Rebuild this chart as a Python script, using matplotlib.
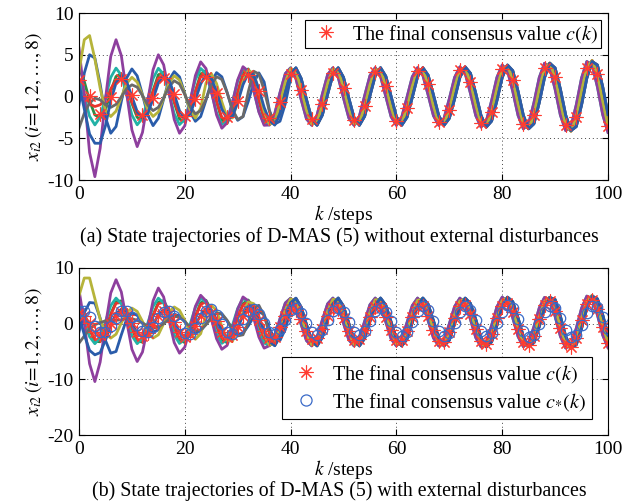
import matplotlib
matplotlib.use('Agg')
import matplotlib.pyplot as plt
from matplotlib.lines import Line2D

plt.rcParams['font.family'] = ['Liberation Serif', 'DejaVu Serif']
plt.rcParams['mathtext.fontset'] = 'stix'
plt.rcParams['axes.unicode_minus'] = False

steps = list(range(101))

# ======================= panel (a) =======================
c_top = [2.00, 1.44, 0.03, -1.42, -2.06, -1.52, -0.08, 1.42, 2.13, 1.61,
         0.14, -1.43, -2.19, -1.70, -0.21, 1.42, 2.26, 1.79, 0.28, -1.43,
         -2.33, -1.90, -0.35, 1.42, 2.39, 1.99, 0.43, -1.41, -2.46, -2.09,
         -0.51, 1.40, 2.52, 2.21, 0.60, -1.39, -2.59, -2.31, -0.68, 1.37,
         2.65, 2.42, 0.78, -1.35, -2.72, -2.54, -0.88, 1.32, 2.78, 2.66,
         0.98, -1.29, -2.85, -2.77, -1.09, 1.26, 2.91, 2.90, 1.21, -1.22,
         -2.97, -3.02, -1.32, 1.17, 3.03, 3.16, 1.45, -1.13, -3.09, -3.29,
         -1.58, 1.07, 3.15, 3.42, 1.72, -1.02, -3.20, -3.57, -1.87, 0.96,
         3.26, 3.71, 2.01, -0.88, -3.31, -3.85, -2.17, 0.81, 3.36, 4.00,
         2.33, -0.72, -3.40, -4.15, -2.50, 0.63, 3.45, 4.30, 2.67, -0.54,
         -3.48]

# synchronised parts, k = 36 ... 100
lead_tail = [-3.41, -2.07, 0.47, 2.74, 3.43, 2.15, -0.37, -2.68, -3.44, -2.22,
             0.28, 2.62, 3.44, 2.29, -0.18, -2.55, -3.45, -2.36, 0.10, 2.49,
             3.45, 2.42, 0.00, -2.42, -3.45, -2.49, -0.09, 2.36, 3.45, 2.55,
             0.18, -2.29, -3.45, -2.62, -0.28, 2.28, 3.55, 2.78, 0.38, -2.28,
             -3.66, -2.94, -0.49, 2.28, 3.77, 3.09, 0.61, -2.27, -3.87, -3.26,
             -0.74, 2.26, 3.98, 3.42, 0.87, -2.23, -4.08, -3.60, -1.01, 2.21,
             4.19, 3.77, 1.15, -2.17, -4.30]
mid_tail = [-3.35, -2.96, -0.87, 1.73, 3.33, 3.01, 0.96, -1.65, -3.30, -3.05,
            -1.05, 1.57, 3.27, 3.09, 1.14, -1.48, -3.24, -3.14, -1.22, 1.40,
            3.21, 3.17, 1.31, -1.31, -3.17, -3.21, -1.39, 1.22, 3.14, 3.24,
            1.48, -1.14, -3.10, -3.27, -1.58, 1.07, 3.15, 3.42, 1.72, -1.02,
            -3.20, -3.57, -1.87, 0.96, 3.26, 3.71, 2.01, -0.88, -3.31, -3.85,
            -2.17, 0.81, 3.36, 4.00, 2.33, -0.72, -3.40, -4.15, -2.50, 0.63,
            3.45, 4.30, 2.67, -0.54, -3.48]
lag_tail = [-2.79, -3.41, -2.07, 0.47, 2.74, 3.43, 2.15, -0.37, -2.68, -3.44,
            -2.22, 0.28, 2.62, 3.44, 2.29, -0.18, -2.55, -3.45, -2.36, 0.10,
            2.49, 3.45, 2.42, 0.00, -2.42, -3.45, -2.49, -0.09, 2.36, 3.45,
            2.55, 0.18, -2.29, -3.45, -2.62, -0.28, 2.28, 3.55, 2.78, 0.38,
            -2.28, -3.66, -2.94, -0.49, 2.28, 3.77, 3.09, 0.61, -2.27, -3.87,
            -3.26, -0.74, 2.26, 3.98, 3.42, 0.87, -2.23, -4.08, -3.60, -1.01,
            2.21, 4.19, 3.77, 1.15, -2.17]

# transients, k = 0 ... 35 unless noted
blue1_head = [-1.0, 2.8, 5.0, 4.6, 1.5, -2.5, -4.4, -3.6, -0.6, 2.22,
              3.30, 2.47, 0.22, -2.22, -3.49, -2.60, -0.31, 1.96, 2.98, 2.35,
              0.36, -1.84, -2.97, -2.40, -0.44, 1.71, 2.86, 2.36, 0.50, -1.65,
              -2.85, -2.41, -0.58, 1.58, 2.83, 1.74, -1.68, -3.30, -2.96, -0.87,
              2.2]                      # k = 0 ... 40
green_head = [3.5, 1.8, -0.5, -2.2, -2.6, -1.6, 0.6, 2.4, 2.7, 1.3,
              -0.8, -2.5, -2.8, -1.5, 0.7, 2.6, 2.9, 1.5, -0.7, -2.7,
              -3.0, -1.7, 0.6, 2.7, 3.1, 1.8, -0.6, -2.8, -3.2, -1.9,
              0.5, 2.8, 3.3, 2.0, -0.5, -2.8]
red_head = [1.6, 0.3, -0.9, -1.2, -1.0, -0.3, 0.9, 2.0, 2.2, 1.1,
            -0.7, -2.1, -2.3, -1.2, 0.6, 2.2, 2.5, 1.3, -0.6, -2.3,
            -2.6, -1.4, 0.6, 2.4, 2.8, 1.6, -0.6, -2.5, -2.9, -1.7,
            0.5, 2.6, 3.1, 1.8, -0.4, -2.6]
cyan_head = [2.0, 0.04, -2.36, -3.40, -2.48, -0.14, 2.29, 3.40, 2.55, 0.23,
             -2.22, -3.39, -2.60, -0.32, 2.15, 3.38, 2.66, 0.41, -2.08, -3.37,
             -2.72, -0.50, 2.01, 3.36, 2.77, 0.59, -1.93, -3.34, -2.82, -0.68,
             1.86, 3.32, 2.87, 0.77, -1.78, -3.30]
purple_head = [5.8, 0.1, -6.7, -9.6, -6.2, -0.3, 4.8, 6.8, 4.9, 0.4,
               -4.0, -6.0, -4.3, -0.5, 3.2, 5.0, 3.8, 0.55, -2.75, -4.4,
               -3.5, -0.64, 2.5, 4.15, 3.35, 0.7, -2.2, -3.8, -3.15, -0.75,
               2.0, 3.57, 3.04, 0.82, -1.86, -3.45]
olive_head = [3.0, 6.8, 7.3, 4.5, 1.0, -1.66, -2.4, -1.75, -0.1, 1.55,
              2.3, 1.72, 0.15, -1.53, -2.39, -1.84, -0.23, 1.58, 2.49, 1.96,
              0.30, -1.59, -2.58, -1.38, 1.60, 2.76, 1.55, -0.64, -2.51, -2.57,
              -0.62, 1.75, 3.13, 2.79, 0.75, -1.78]
gray_head = [-3.8, -2.0, -0.8, -0.2, -0.4, -1.0, -1.3, -0.95, -0.05, 0.94,
             1.40, 1.12, 0.10, -1.04, -1.69, -1.30, -0.17, 1.14, 1.89, 1.49,
             0.24, -1.22, -2.08, -1.68, -0.33, 1.36, 2.37, 2.04, 0.45, -1.53,
             -2.75, -2.41, 0.56, 3.03, 2.70, 0.75, -1.78]   # k = 0 ... 36
blue2_head = [1.5, -1.5, -4.5, -5.6, -5.6, -3.5, -0.5, 1.6, 2.5, 1.8,
              0.0, -1.8, -2.6, -2.0, -0.3, 1.6, 2.5, 2.0, 0.3, -1.7,
              -2.6, -2.1, -0.4, 1.5, 2.6, 2.2, 0.6, -1.5, -2.7, -2.4,
              -0.7, 1.4, 2.8, 2.6, 0.9, -1.3, -2.9]   # k = 0 ... 36

agents_top = [
    blue1_head + lag_tail[5:],
    green_head + mid_tail,
    red_head + mid_tail,
    cyan_head + lead_tail,
    purple_head + lead_tail,
    olive_head + mid_tail,
    gray_head + lag_tail[1:],
    blue2_head + lag_tail[1:],
]

# ======================= panel (b) =======================
c_bot = c_top
c_star = [2.25, 2.25, 1.18, -0.34, -1.43, -1.47, -0.43, 1.08, 2.21, 2.29,
          1.28, -0.23, -1.39, -1.51, -0.53, 0.98, 2.16, 2.32, 1.38, -0.13,
          -1.59, -1.83, -0.78, 0.95, 2.36, 2.64, 1.63, -0.09, -1.53, -1.85,
          -0.88, 0.83, 2.30, 2.67, 1.73, 0.03, -1.46, -1.88, -0.98, 0.71,
          2.38, 2.88, 1.96, 0.13, -1.54, -2.09, -1.21, 0.60, 2.30, 2.90,
          2.06, 0.26, -1.45, -2.10, -1.31, 0.47, 2.21, 2.90, 2.16, 0.40,
          -1.50, -2.30, -1.55, 0.33, 2.25, 3.10, 2.40, 0.54, -1.39, -2.30,
          -1.64, 0.18, 2.14, 3.09, 2.49, 0.69, -1.28, -2.28, -1.74, 0.04,
          2.15, 3.27, 2.74, 0.86, -1.28, -2.46, -1.99, -0.14, 2.02, 3.24,
          2.83, 1.02, -1.15, -2.43, -2.07, -0.29, 1.89, 3.21, 2.91, 1.17,
          -1.02]

lead_b = [-3.96, -2.28, 0.88, 3.71, 4.57, 2.97, -0.16, -3.04, -3.99, -2.46,
          0.65, 3.56, 4.60, 3.15, 0.07, -2.89, -4.00, -2.64, 0.42, 3.40,
          4.60, 3.32, 0.30, -2.72, -4.00, -2.80, 0.19, 3.24, 4.60, 3.48,
          0.53, -2.56, -4.00, -2.96, -0.04, 3.07, 4.59, 3.63, 0.76, -2.50,
          -4.17, -3.26, -0.30, 3.01, 4.76, 3.94, 1.02, -2.31, -4.14, -3.40,
          -0.54, 2.81, 4.71, 4.33, 1.32, -2.27, -4.38, -3.79, -0.85, 2.76,
          4.95, 4.46, 1.57, -2.05, -4.31]
mid_b = [-3.88, -3.39, -0.78, 2.45, 4.45, 4.05, 1.49, -1.75, -3.82, -3.51,
         -1.01, 2.25, 4.38, 4.16, 1.71, -1.54, -3.74, -3.61, -1.22, 2.04,
         4.30, 4.26, 1.93, -1.33, -3.66, -3.70, -1.43, 1.83, 4.21, 4.34,
         2.14, -1.12, -3.56, -3.78, -1.64, 1.61, 4.11, 4.41, 2.35, -0.90,
         -3.63, -4.04, -1.95, 1.44, 4.17, 4.67, 2.65, -0.72, -3.50, -4.10,
         -2.15, 1.20, 4.04, 4.72, 3.03, -0.54, -3.62, -4.44, -2.53, 1.01,
         4.14, 5.06, 3.23, -0.29, -3.46]
lag_b = [-3.18, -3.96, -2.28, 0.88, 3.71, 4.57, 2.97, -0.16, -3.04, -3.99,
         -2.46, 0.65, 3.56, 4.60, 3.15, 0.07, -2.89, -4.00, -2.64, 0.42,
         3.40, 4.60, 3.32, 0.30, -2.72, -4.00, -2.80, 0.19, 3.24, 4.60,
         3.48, 0.53, -2.56, -4.00, -2.96, -0.04, 3.07, 4.59, 3.63, 0.76,
         -2.50, -4.17, -3.26, -0.30, 3.01, 4.76, 3.94, 1.02, -2.31, -4.14,
         -3.40, -0.54, 2.81, 4.71, 4.33, 1.32, -2.27, -4.38, -3.79, -0.85,
         2.76, 4.95, 4.46, 1.57, -2.05]

blue1_b = [-1.5, 2.0, 3.8, 3.7, 1.0, -3.0, -5.3, -5.0, -2.0, 0.8,
           1.9, 1.5, 0.2, -1.0, -1.5, -1.1, 0.1, 1.2, 1.7, 1.4,
           0.3, -0.9, -1.6, -1.3, -0.1, 1.2, 1.9, 1.7, 0.5, -1.0,
           -1.9, -1.7, -0.4, 1.2, 2.2, 1.6, -0.8, -2.8, -3.0, -1.0,
           2.4]                         # k = 0 ... 40
green_b = [3.0, 1.93, -1.04, -3.17, -3.25, -1.23, 1.73, 3.93, 4.09, 2.12,
           -0.84, -3.08, -3.32, -1.41, 1.53, 3.83, 4.15, 2.31, -0.64, -2.98,
           -3.38, -1.60, 1.34, 3.73, 4.20, 2.49, -0.43, -2.87, -3.42, -1.77,
           1.13, 3.61, 4.25, 2.66, -0.23, -2.76]
red_b = [2.0, 1.81, -0.92, -2.90, -2.97, -1.10, 1.63, 3.66, 3.81, 1.99,
         -0.74, -2.81, -3.03, -1.27, 1.45, 3.57, 3.86, 2.16, -0.56, -2.72,
         -3.09, -1.45, 1.26, 3.47, 3.91, 2.33, -0.37, -2.62, -3.13, -1.61,
         1.08, 3.37, 3.95, 2.49, -0.18, -2.51]
cyan_b = [2.5, 0.55, -2.34, -3.60, -2.49, 0.34, 3.26, 4.60, 3.57, 0.77,
          -2.18, -3.59, -2.64, 0.11, 3.09, 4.58, 3.71, 0.99, -2.01, -3.56,
          -2.78, -0.11, 2.92, 4.55, 3.84, 1.21, -1.83, -3.53, -2.90, -0.32,
          2.74, 4.51, 3.96, 1.43, -1.65, -3.48]
purple_b = [6.1, 0.1, -7.2, -10.4, -6.9, -0.3, 5.5, 7.9, 5.7, 0.5,
            -4.6, -6.8, -5.1, -0.6, 4.1, 6.4, 4.8, 0.7, -3.4, -5.3,
            -4.2, -0.8, 3.1, 5.1, 4.1, 0.9, -2.7, -4.6, -3.9, -0.9,
            2.6, 4.8, 4.1, 1.1, -2.4, -4.4]
olive_b = [5.0, 8.2, 8.2, 4.5, 0.8, -1.8, -2.6, -1.9, 0.1, 2.0,
           2.8, 2.2, 0.4, -1.6, -2.6, -2.0, 0.0, 2.1, 3.0, 2.4,
           0.6, -1.6, -2.8, -1.8, 1.5, 3.3, 2.4, -0.5, -2.9, -3.2,
           -0.8, 2.0, 3.9, 3.6, 1.2, -1.9]
gray_b = [-3.5, -2.2, -1.0, -0.2, 0.2, 0.5, 0.6, 0.6, 0.7, 0.9,
          0.9, 0.6, 0.1, -0.4, -0.8, -0.6, 0.0, 0.8, 1.3, 1.2,
          0.4, -0.6, -1.3, -1.1, -0.2, 1.0, 1.9, 1.8, 0.6, -1.0,
          -2.2, -2.0, 0.2, 2.8, 3.3, 1.4, -1.8]           # k = 0 ... 36
blue2_b = [1.5, -2.0, -4.8, -5.6, -5.2, -3.0, -0.2, 1.8, 2.6, 1.8,
           0.0, -1.7, -2.4, -1.8, -0.2, 1.6, 2.5, 2.1, 0.4, -1.5,
           -2.4, -2.0, -0.3, 1.6, 2.7, 2.4, 0.8, -1.3, -2.6, -2.5,
           -0.8, 1.5, 3.1, 3.0, 1.2, -1.3, -3.2]           # k = 0 ... 36

agents_bot = [
    blue1_b + lag_b[5:],
    green_b + mid_b,
    red_b + mid_b,
    cyan_b + lead_b,
    purple_b + lead_b,
    olive_b + mid_b,
    gray_b + lag_b[1:],
    blue2_b + lag_b[1:],
]

colors = ['#2a5caa', '#2e8b45', '#e8352b', '#22b2a6', '#8e3f9e', '#b6b43a',
          '#6a6a6a', '#2a5caa']
star_col = '#ff3b30'
circ_col = '#3a6ac8'
asterisk = (8, 2, 0)

fig = plt.figure(figsize=(6.3, 5.04), dpi=100)
ax1 = fig.add_axes([79/630, 1-180/504, 529/630, 167/504])
ax2 = fig.add_axes([79/630, 1-435/504, 529/630, 167/504])


def style(ax, ylim, yticks):
    ax.set_xlim(0, 100)
    ax.set_ylim(*ylim)
    ax.set_xticks([0, 20, 40, 60, 80, 100])
    ax.set_yticks(yticks)
    ax.tick_params(direction='in', top=True, right=True, length=4, width=0.8,
                   labelsize=14, pad=4)
    ax.grid(True, linestyle=(0, (1, 3)), color='#444444', linewidth=0.7)
    for s in ax.spines.values():
        s.set_linewidth(0.8)
    ax.set_ylabel(r'$x_{i2}\,(i\!=\!1,2,\ldots,8)$', fontsize=14, labelpad=2)
    ax.set_xlabel(r'$k$ /steps', fontsize=14, labelpad=0)


for ag, col in zip(agents_top, colors):
    ax1.plot(steps, ag, color=col, lw=2.0)
ax1.plot(steps[::2], c_top[::2], ls='none', marker=asterisk, color=star_col,
         ms=10, mew=0.8)
style(ax1, (-10, 10), [-10, -5, 0, 5, 10])
h1 = Line2D([], [], ls='none', marker=asterisk, color=star_col, ms=10, mew=0.8)
leg1 = ax1.legend([h1], [r'The final consensus value $c(k)$'], loc='upper right',
                  fontsize=14.5, fancybox=False, edgecolor='black', framealpha=1,
                  borderpad=0.15, handletextpad=0.4, handlelength=1.8,
                  borderaxespad=0.35)
leg1.get_frame().set_linewidth(0.8)

for ag, col in zip(agents_bot, colors):
    ax2.plot(steps, ag, color=col, lw=2.0)
ax2.plot(steps, c_bot, ls='none', marker=asterisk, color=star_col, ms=10, mew=0.8)
ax2.plot(steps, c_star, ls='none', marker='o', mfc='none', mec=circ_col, ms=7.5,
         mew=0.9)
style(ax2, (-20, 10), [-20, -10, 0, 10])
h2 = Line2D([], [], ls='none', marker='o', mfc='none', mec=circ_col, ms=8, mew=0.9)
leg2 = ax2.legend([h1, h2], [r'The final consensus value $c(k)$',
                             r'The final consensus value $c_{*}(k)$'],
                  loc='lower right', fontsize=14.5, fancybox=False,
                  edgecolor='black', framealpha=1, borderpad=0.3,
                  handletextpad=0.4, handlelength=1.8, labelspacing=0.3,
                  borderaxespad=0.8)
leg2.get_frame().set_linewidth(0.8)

fig.text(0.539, 1-237/504,
         '(a) State trajectories of D-MAS (5) without external disturbances',
         ha='center', va='center', fontsize=14.3)
fig.text(0.539, 1-491/504,
         '(b) State trajectories of D-MAS (5) with external disturbances',
         ha='center', va='center', fontsize=14.3)

fig.savefig('out.png', dpi=100)
